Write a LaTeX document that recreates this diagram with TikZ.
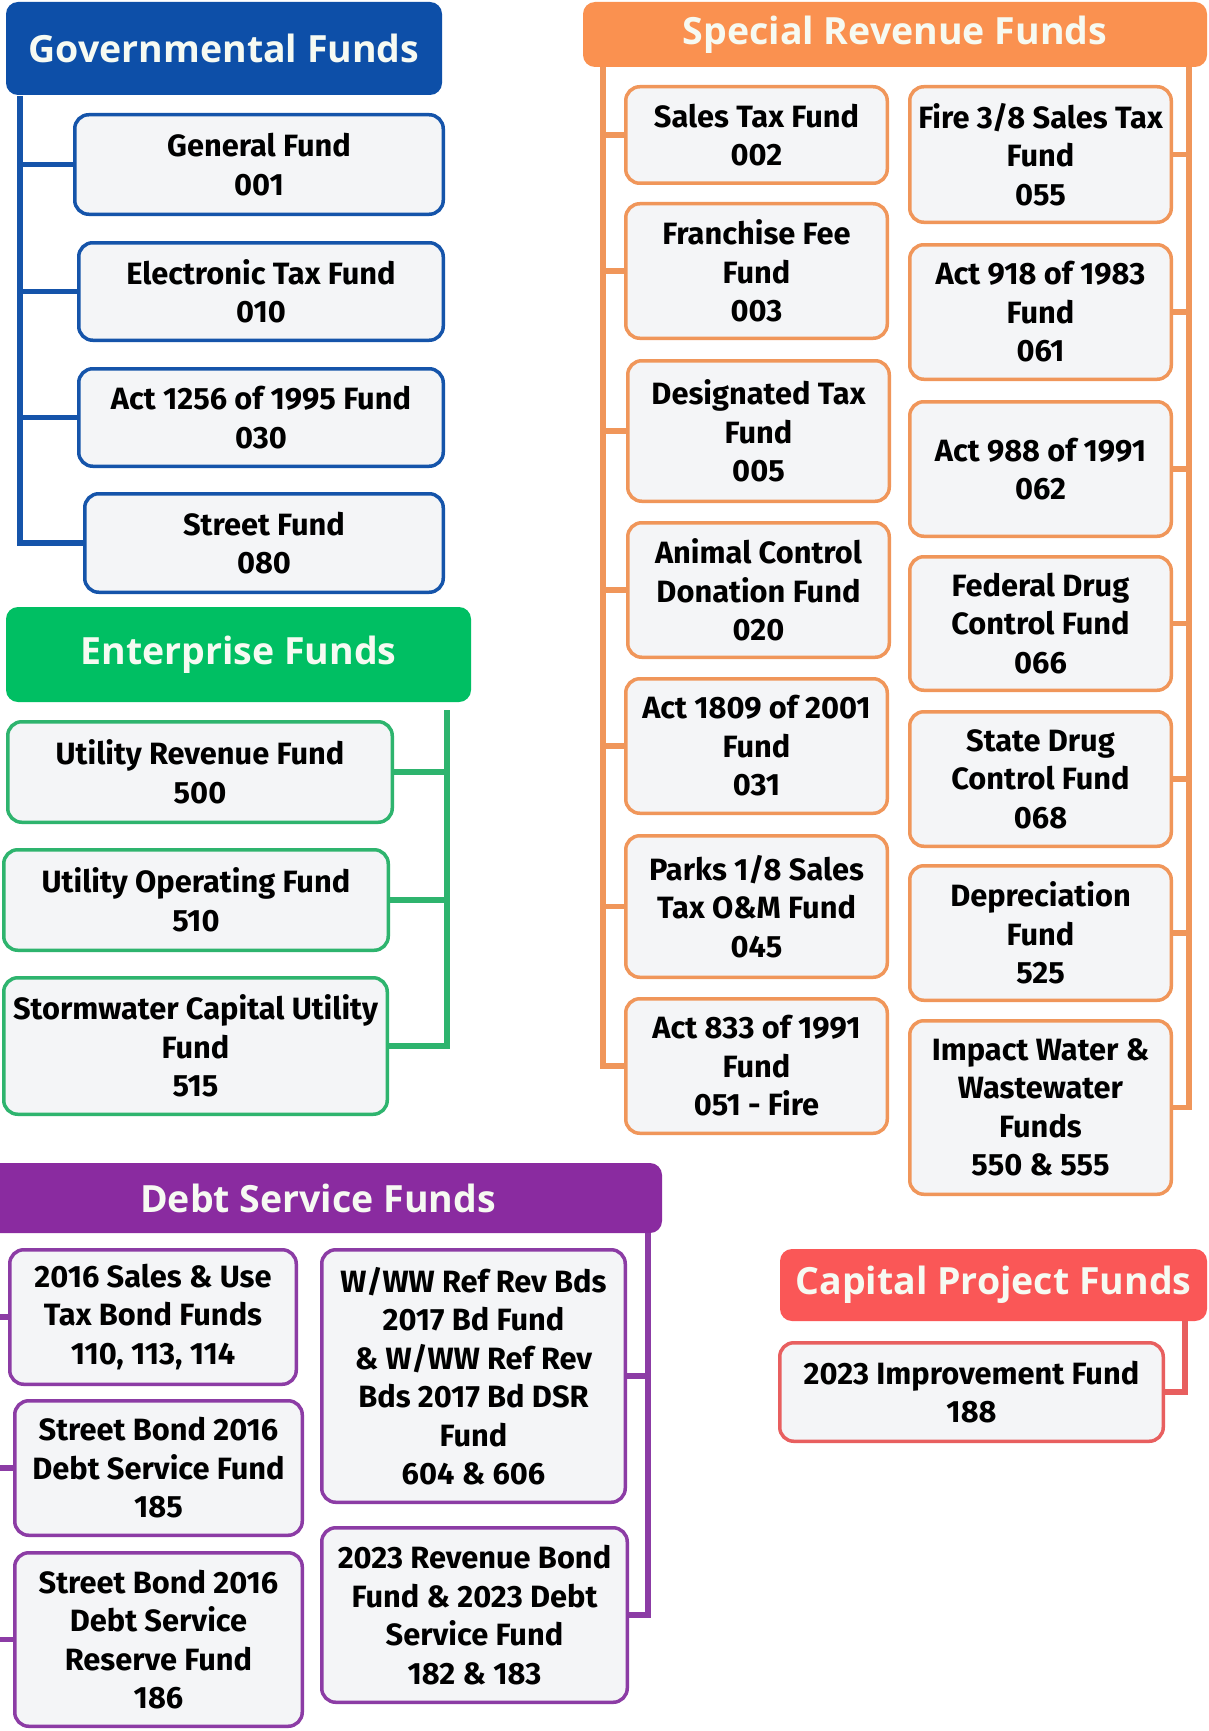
\documentclass[tikz,border=0pt]{standalone}
\usepackage{fontspec}
\setmainfont{Fira Sans}
\newfontfamily\hdfont{Open Sans}
\newfontfamily\bxfont{Fira Sans}
\definecolor{boxfill}{RGB}{244,245,247}
\definecolor{hdtext}{RGB}{246,250,242}
\definecolor{blueH}{RGB}{13,79,168}
\definecolor{blueB}{RGB}{21,84,170}
\definecolor{greenH}{RGB}{0,191,99}
\definecolor{greenB}{RGB}{46,180,110}
\definecolor{orangeH}{RGB}{250,145,80}
\definecolor{orangeB}{RGB}{240,150,90}
\definecolor{purpleH}{RGB}{138,43,160}
\definecolor{purpleB}{RGB}{140,60,165}
\definecolor{redH}{RGB}{250,87,87}
\definecolor{redB}{RGB}{232,95,95}
\tikzset{
  hdr/.style={rounded corners=12pt, inner sep=0pt, outer sep=0pt, text=hdtext,
    font=\hdfont\bfseries\fontsize{37.5}{42}\selectfont},
  fbox/.style={rounded corners=14pt, line width=3.5pt, fill=boxfill, inner sep=0pt, outer sep=0pt,
    align=center, text=black, font=\bxfont\bfseries\fontsize{30.8}{38.5}\selectfont},
  conn/.style={line width=5.5pt},
}
\newcommand{\fbx}[6]{% name, cx, cy, w, h, text
  \node[fbox, minimum width=#4pt-3.5pt, minimum height=#5pt-3.5pt] (#1) at (#2,#3) {#6};}
\begin{document}
\begin{tikzpicture}[x=1pt,y=-1pt]
\useasboundingbox (0,0) rectangle (1209,1731);
\fill[white] (0,0) rectangle (1209,1731);

% ---------- Governmental ----------
\node[hdr, fill=blueH, minimum width=436pt, minimum height=93pt] (gh) at (224,48.5) {Governmental Funds};
\begin{scope}[every node/.append style={draw=blueB}]
\fbx{g1}{259}{164.5}{372}{103}{General Fund\\001}
\fbx{g2}{261}{291.5}{368}{101}{Electronic Tax Fund\\010}
\fbx{g3}{261}{417.5}{368}{101}{Act 1256 of 1995 Fund\\030}
\fbx{g4}{264}{543}{362}{102}{Street Fund\\080}
\end{scope}
\coordinate (gtop) at (20,96);
\draw[conn, blueB] (gtop) |- (g4.west);
\foreach \n in {g1,g2,g3} \draw[conn, blueB] (gtop |- \n.west) -- (\n.west);

% ---------- Enterprise ----------
\node[hdr, fill=greenH, minimum width=465pt, minimum height=95pt] (eh) at (238.5,654.5) {Enterprise Funds};
\begin{scope}[every node/.append style={draw=greenB}]
\fbx{e1}{200}{772}{388}{104}{Utility Revenue Fund\\500}
\fbx{e2}{196}{900}{388}{104}{Utility Operating Fund\\510}
\fbx{e3}{195.5}{1046}{387}{140}{Stormwater Capital Utility\\Fund\\515}
\end{scope}
\coordinate (etop) at (447,710);
\draw[conn, greenB] (etop) |- (e3.east);
\foreach \n in {e1,e2} \draw[conn, greenB] (etop |- \n.east) -- (\n.east);

% ---------- Debt Service ----------
\node[hdr, fill=purpleH, minimum width=688pt, minimum height=70pt] (dh) at (318,1198) {Debt Service Funds};
\begin{scope}[every node/.append style={draw=purpleB}]
\fbx{d1}{153}{1317}{290}{138}{2016 Sales \& Use\\Tax Bond Funds\\110, 113, 114}
\fbx{d2}{158.5}{1468}{291}{138}{Street Bond 2016\\Debt Service Fund\\185}
\fbx{d3}{158.5}{1639.5}{291}{177}{Street Bond 2016\\Debt Service\\Reserve Fund\\186}
\fbx{d4}{473.5}{1376}{307}{256}{W/WW Ref Rev Bds\\2017 Bd Fund\\\& W/WW Ref Rev\\Bds 2017 Bd DSR\\Fund\\604 \& 606}
\fbx{d5}{474.5}{1615}{309}{178}{2023 Revenue Bond\\Fund \& 2023 Debt\\Service Fund\\182 \& 183}
\end{scope}
\coordinate (dtopR) at (648,1233);
\coordinate (dtopL) at (-4,1233);
\draw[conn, purpleB] (dtopR) |- (d5.east);
\draw[conn, purpleB] (dtopR |- d4.east) -- (d4.east);
\draw[conn, purpleB] (dtopL) |- (d3.west);
\foreach \n in {d1,d2} \draw[conn, purpleB] (dtopL |- \n.west) -- (\n.west);

% ---------- Special Revenue ----------
\node[hdr, fill=orangeH, minimum width=624pt, minimum height=65pt] (sh) at (895,34.5) {Special Revenue Funds};
\begin{scope}[every node/.append style={draw=orangeB}]
\fbx{s1}{756.5}{135}{265}{100}{Sales Tax Fund\\002}
\fbx{s2}{756.5}{271}{265}{138}{Franchise Fee\\Fund\\003}
\fbx{s3}{758.5}{431}{265}{144}{Designated Tax\\Fund\\005}
\fbx{s4}{758.5}{590}{265}{138}{Animal Control\\Donation Fund\\020}
\fbx{s5}{756.5}{746}{265}{138}{Act 1809 of 2001\\Fund\\031}
\fbx{s6}{756.5}{906.5}{265}{145}{Parks 1/8 Sales\\Tax O\&M Fund\\045}
\fbx{s7}{756.5}{1066}{265}{138}{Act 833 of 1991\\Fund\\051 - Fire}
\fbx{r1}{1040.5}{154.5}{265}{139}{Fire 3/8 Sales Tax\\Fund\\055}
\fbx{r2}{1040.5}{312}{265}{138}{Act 918 of 1983\\Fund\\061}
\fbx{r3}{1040.5}{469}{265}{138}{Act 988 of 1991\\062}
\fbx{r4}{1040.5}{623.5}{265}{137}{Federal Drug\\Control Fund\\066}
\fbx{r5}{1040.5}{779}{265}{138}{State Drug\\Control Fund\\068}
\fbx{r6}{1040.5}{933}{265}{138}{Depreciation\\Fund\\525}
\fbx{r7}{1040.5}{1107.5}{265}{177}{Impact Water \&\\Wastewater\\Funds\\550 \& 555}
\end{scope}
\coordinate (stopL) at (603,67);
\coordinate (stopR) at (1189,67);
\draw[conn, orangeB] (stopL) |- (s7.west);
\foreach \n in {s1,s2,s3,s4,s5,s6} \draw[conn, orangeB] (stopL |- \n.west) -- (\n.west);
\draw[conn, orangeB] (stopR) |- (r7.east);
\foreach \n in {r1,r2,r3,r4,r5,r6} \draw[conn, orangeB] (stopR |- \n.east) -- (\n.east);

% ---------- Capital Project ----------
\node[hdr, fill=redH, minimum width=427pt, minimum height=72pt] (ch) at (993.5,1285) {Capital Project Funds};
\begin{scope}[every node/.append style={draw=redB}]
\fbx{c1}{971.5}{1392}{387}{102}{2023 Improvement Fund\\188}
\end{scope}
\coordinate (ctop) at (1185,1321);
\draw[conn, redB] (ctop) |- (c1.east);
\end{tikzpicture}
\end{document}
